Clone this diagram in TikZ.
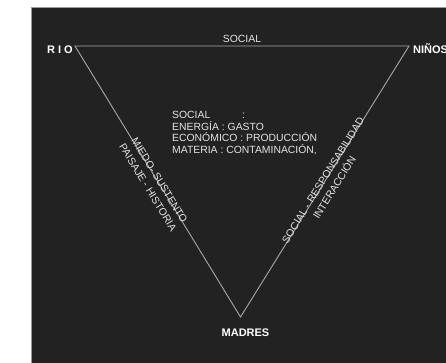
\documentclass[tikz,border=0pt]{standalone}
\usepackage{fontspec}
\setmainfont{Liberation Sans}
\usetikzlibrary{calc}
\definecolor{bgdark}{HTML}{222222}
\definecolor{txt}{HTML}{E4E4E4}
\definecolor{ln}{HTML}{A8A8A8}
\definecolor{frame}{HTML}{9A9A9A}
\begin{document}
\begin{tikzpicture}[x=1pt,y=-1pt,
  lbl/.style={text=txt, font=\fontsize{10.4}{10.4}\selectfont, inner sep=0pt},
  vlbl/.style={text=white, font=\bfseries\fontsize{11}{11}\selectfont, inner sep=0pt},
  edge/.style={draw=ln, line width=0.9pt}]
\useasboundingbox (0,0) rectangle (446,362);
\fill[white] (0,0) rectangle (446,362);
\fill[bgdark] (31,7) rectangle (447,363);
\draw[frame, line width=1pt] (31.5,363) -- (31.5,7.5) -- (447,7.5);

\coordinate (rio) at (75,46);
\coordinate (ninos) at (409,46);
\coordinate (madres) at (240.5,317);
\draw[edge] (rio) -- (ninos) -- (madres) -- cycle;

\node[vlbl, anchor=base east] (riolbl) at (73,53) {R I O};
\node[vlbl, anchor=base west] (ninoslbl) at (413,53) {NIÑOS};
\node[vlbl, anchor=base] (madreslbl) at (245.5,336) {MADRES};

\path (rio) -- (ninos) node[lbl, midway, anchor=base, yshift=3.5pt] (s1) {SOCIAL};
\path (rio) -- (madres)
  node[lbl, pos=0.5, sloped, anchor=base, yshift=-1.5pt] (l1) {MIEDO- SUSTENTO}
  node[lbl, pos=0.5, sloped, anchor=base, yshift=-15pt] (l2) {PAISAJE - HISTORIA};
\path (madres) -- (ninos)
  node[lbl, pos=0.5, sloped, anchor=base, yshift=-1.5pt] (r1) {SOCIAL - RESPONSABILIDAD}
  node[lbl, pos=0.5, sloped, anchor=base, yshift=-15pt] (r2) {INTERACCIÓN};

\node[lbl, anchor=base west] (c1) at (172,118.5) {SOCIAL};
\node[lbl, anchor=base] (c1b) at (243.5,118.5) {:};
\node[lbl, anchor=base west] (c2) at (172,130) {ENERGÍA : GASTO};
\node[lbl, anchor=base west] (c3) at (172,141.5) {ECONÓMICO : PRODUCCIÓN};
\node[lbl, anchor=base west] (c4) at (172,153) {MATERIA : CONTAMINACIÓN,};
\end{tikzpicture}
\end{document}
